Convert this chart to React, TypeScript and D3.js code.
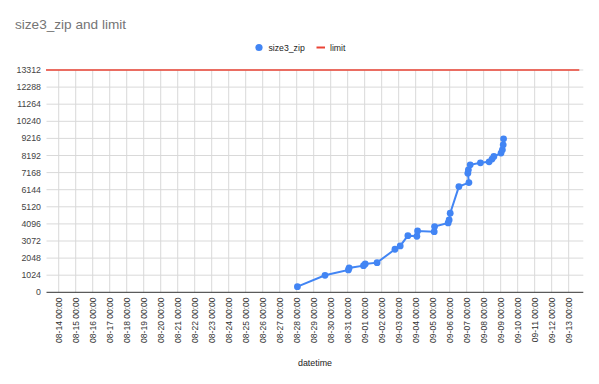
import React from "react";
import * as d3 from "d3";

const title = "size3_zip and limit";
const xAxisTitle = "datetime";
const seriesName = "size3_zip";
const limitName = "limit";

const sizeDates = [
  "2023-08-28T01:00", "2023-08-29T16:00", "2023-08-31T01:00", "2023-08-31T02:00",
  "2023-08-31T22:20", "2023-09-01T00:45", "2023-09-01T17:30", "2023-09-02T18:45",
  "2023-09-03T02:10", "2023-09-03T13:00", "2023-09-04T01:40", "2023-09-04T02:40",
  "2023-09-05T02:10", "2023-09-05T02:40", "2023-09-05T21:50", "2023-09-05T23:15",
  "2023-09-06T00:45", "2023-09-06T13:00", "2023-09-07T03:10", "2023-09-07T01:40",
  "2023-09-07T02:25", "2023-09-07T05:00", "2023-09-07T19:25", "2023-09-08T07:40",
  "2023-09-08T11:45", "2023-09-08T14:25", "2023-09-09T00:30", "2023-09-09T02:25",
  "2023-09-09T03:35", "2023-09-09T04:05",
];
const sizeValues = [
  336, 1019, 1337, 1457, 1595, 1697, 1775, 2578, 2776, 3393, 3357, 3675, 3633, 3933,
  4155, 4335, 4737, 6331, 6571, 7135, 7333, 7633, 7753, 7813, 7975, 8131, 8335, 8533,
  8833, 9193,
];

const limitDates = ["2023-08-13T06:00", "2023-09-13T15:00"];
const limitValues = [13312, 13312];

const xDomain = ["2023-08-13T06:45", "2023-09-13T20:40"];
const xTickStart = "2023-08-14T00:00";
const xTickEnd = "2023-09-13T00:00";
const yTicks = [0, 1024, 2048, 3072, 4096, 5120, 6144, 7168, 8192, 9216, 10240, 11264, 12288, 13312];

const parse = d3.timeParse("%Y-%m-%dT%H:%M");
const fmt = d3.timeFormat("%m-%d %H:%M");
const FONT = "'Liberation Sans', Arial, sans-serif";

export default function App() {
  const W = 599, H = 384;
  const left = 46.5, right = 583.3, top = 70, bottom = 292.3;
  const x = d3.scaleTime().domain(xDomain.map((d) => parse(d)!)).range([left, right]);
  const y = d3.scaleLinear().domain([0, 13312]).range([bottom, top]);
  const xTicks = d3.timeDay.range(parse(xTickStart)!, d3.timeDay.offset(parse(xTickEnd)!, 1));

  const pts = sizeDates.map((d, i) => ({ t: parse(d)!, v: sizeValues[i] }));
  const line = d3.line<{ t: Date; v: number }>().x((d) => x(d.t)).y((d) => y(d.v));
  const limPts = limitDates.map((d, i) => ({ t: parse(d)!, v: limitValues[i] }));

  return (
    <svg width={W} height={H} style={{ position: "absolute", left: 0, top: 0, background: "#fff" }}>
      <rect width={W} height={H} fill="#fff" />
      <text x={15} y={28.5} fontFamily={FONT} fontSize={13.6} fill="#757575">{title}</text>
      {/* legend */}
      <circle cx={259} cy={47.5} r={3.6} fill="#4285F4" />
      <text x={268.5} y={50.6} fontFamily={FONT} fontSize={8.7} fill="#222">{seriesName}</text>
      <line x1={316.5} x2={325} y1={47.5} y2={47.5} stroke="#EA4335" strokeWidth={2} />
      <text x={330} y={50.6} fontFamily={FONT} fontSize={8.7} fill="#222">{limitName}</text>

      {/* horizontal gridlines */}
      {yTicks.map((t) => (
        <g key={t}>
          {t !== 0 && <line x1={left} x2={right} y1={y(t)} y2={y(t)} stroke="#d9d9d9" strokeWidth={1} />}
          <text x={41} y={y(t)} dy="0.35em" textAnchor="end" fontFamily={FONT} fontSize={8.8} fill="#444">{t}</text>
        </g>
      ))}
      {/* vertical gridlines + labels */}
      {xTicks.map((t, i) => (
        <g key={i}>
          <line x1={x(t)} x2={x(t)} y1={top} y2={bottom} stroke="#d9d9d9" strokeWidth={1} />
          <text
            transform={`translate(${x(t)},297.5) rotate(-90)`}
            textAnchor="end"
            dy="0.35em"
            fontFamily={FONT}
            fontSize={8.5}
            fill="#333"
          >
            {fmt(t)}
          </text>
        </g>
      ))}
      <line x1={left} x2={right} y1={bottom} y2={bottom} stroke="#333" strokeWidth={1} />
      <text x={315} y={366} textAnchor="middle" fontFamily={FONT} fontSize={8.9} fill="#222">{xAxisTitle}</text>

      <path d={line(limPts) || ""} stroke="#EA4335" strokeWidth={1.5} fill="none" />
      <path d={line(pts) || ""} stroke="#4285F4" strokeWidth={2} fill="none" />
      {pts.map((p, i) => (
        <circle key={i} cx={x(p.t)} cy={y(p.v)} r={3.4} fill="#4285F4" />
      ))}
    </svg>
  );
}
